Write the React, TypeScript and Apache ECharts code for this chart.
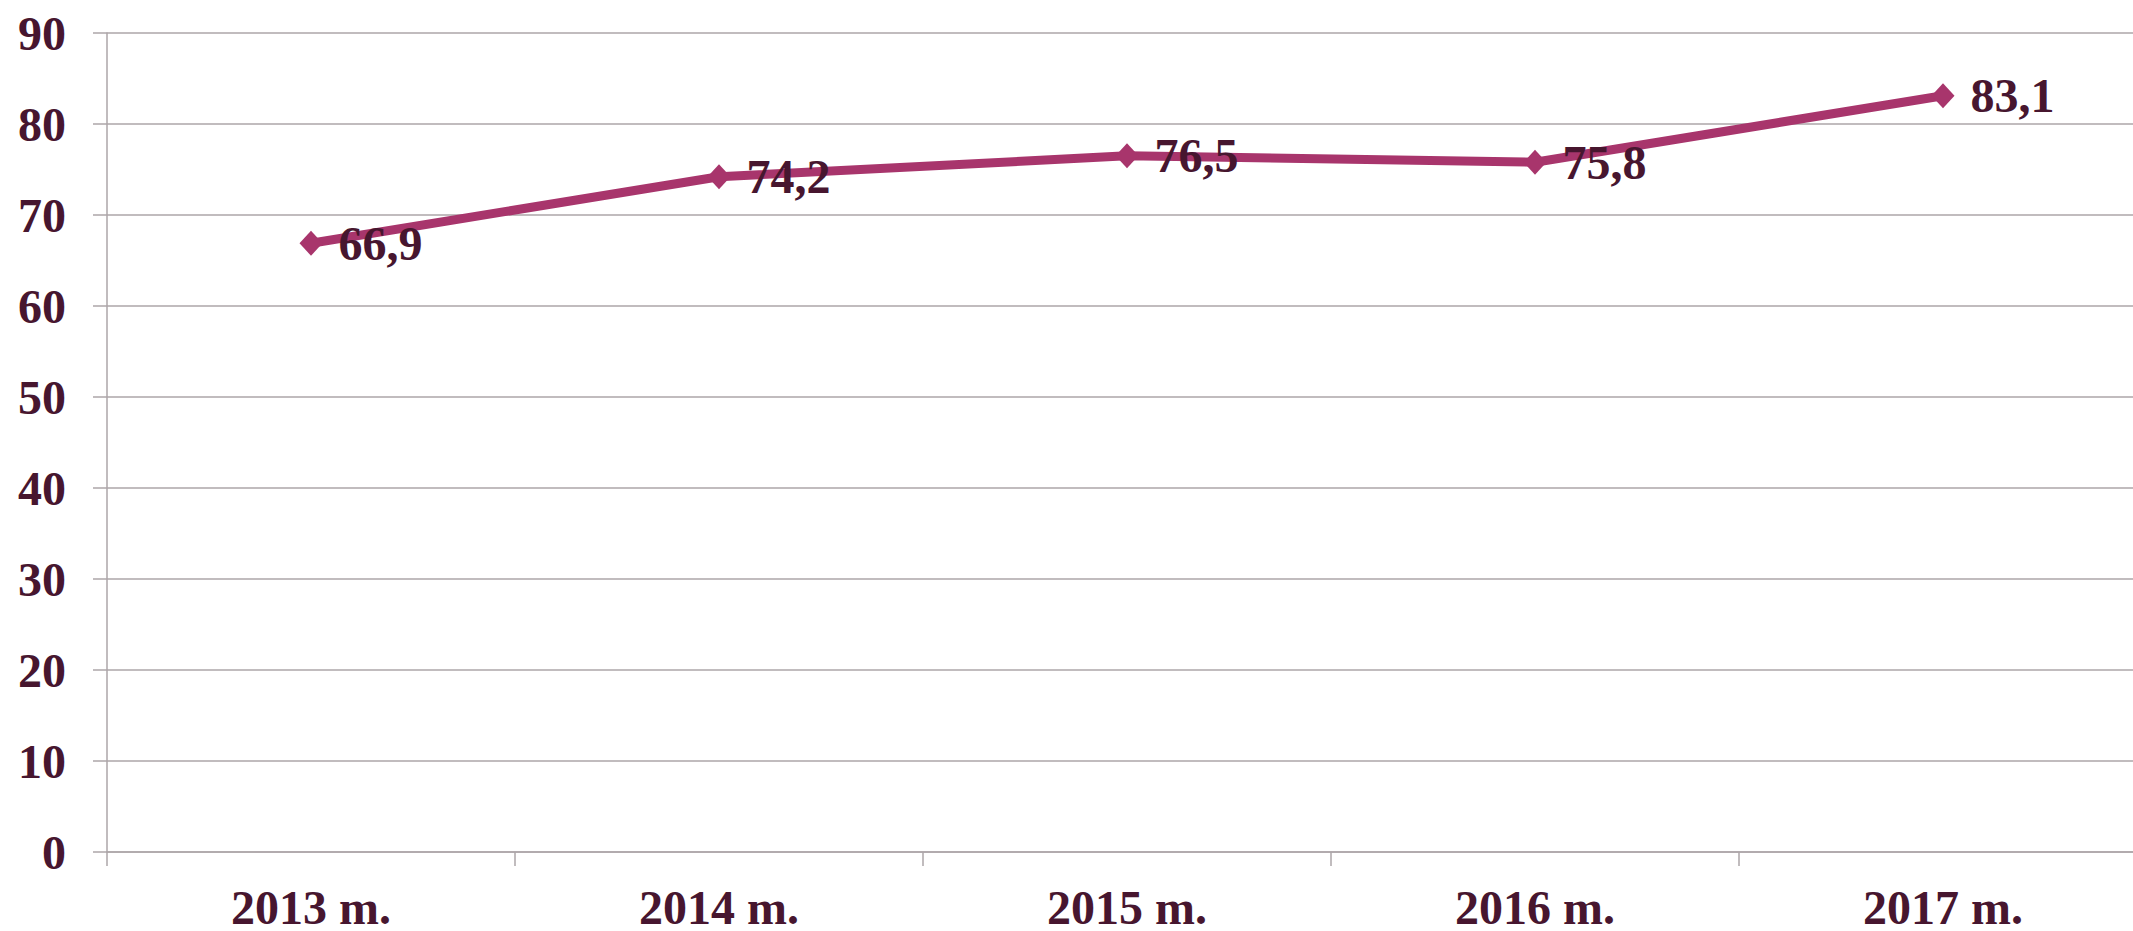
import React, { useEffect, useRef } from "react";
import * as echarts from "echarts";

const categories = ["2013 m.", "2014 m.", "2015 m.", "2016 m.", "2017 m."];
const values = [66.9, 74.2, 76.5, 75.8, 83.1];
const yTicks = { min: 0, max: 90, interval: 10 };

const TEXT = "#47162f";
const LINE = "#a8356c";
const GRIDC = "#ada6a9";
const FONT = "'Liberation Serif', 'Times New Roman', serif";

export default function App() {
  const ref = useRef<HTMLDivElement>(null);
  useEffect(() => {
    if (!ref.current) return;
    const chart = echarts.init(ref.current, null, { renderer: "svg" });
    chart.setOption({
      animation: false,
      backgroundColor: "#ffffff",
      grid: { left: 107, top: 33, bottom: 78, right: 0, containLabel: false },
      xAxis: {
        type: "category",
        data: categories,
        boundaryGap: true,
        axisLine: { show: true, lineStyle: { color: GRIDC, width: 1.5 } },
        axisTick: { show: true, length: 14, lineStyle: { color: GRIDC, width: 1.5 } },
        axisLabel: {
          color: TEXT,
          fontFamily: FONT,
          fontWeight: "bold",
          fontSize: 48,
          lineHeight: 40,
          margin: 35,
        },
      },
      yAxis: {
        type: "value",
        min: yTicks.min,
        max: yTicks.max,
        interval: yTicks.interval,
        axisLine: { show: true, lineStyle: { color: GRIDC, width: 1.5 } },
        axisTick: { show: true, length: 14, lineStyle: { color: GRIDC, width: 1.5 } },
        splitLine: { show: true, lineStyle: { color: GRIDC, width: 1.5 } },
        axisLabel: {
          color: TEXT,
          fontFamily: FONT,
          fontWeight: "bold",
          fontSize: 48,
          margin: 41,
        },
      },
      series: [
        {
          type: "line",
          data: values,
          symbol: "diamond",
          symbolSize: [23, 25],
          lineStyle: { color: LINE, width: 9 },
          itemStyle: { color: LINE },
          label: {
            show: true,
            position: "right",
            distance: 16,
            color: TEXT,
            fontFamily: FONT,
            fontWeight: "bold",
            fontSize: 48,
            formatter: (p: any) => String(p.value.toFixed(1)).replace(".", ","),
          },
        },
      ],
    });
    return () => chart.dispose();
  }, []);
  return (
    <div
      style={{
        position: "fixed",
        left: 0,
        top: 0,
        width: 2133,
        height: 931,
        overflow: "hidden",
        background: "#fff",
      }}
    >
      <div ref={ref} style={{ width: 2147, height: 931 }} />
    </div>
  );
}
